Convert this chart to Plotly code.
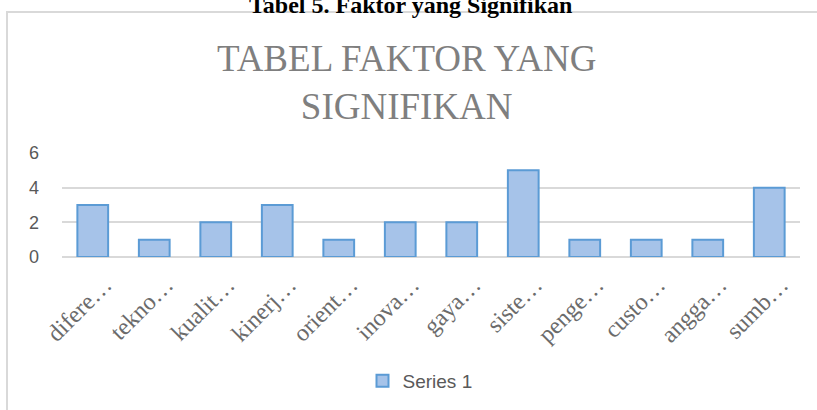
import plotly.graph_objects as go

categories = ["difere…", "tekno…", "kualit…", "kinerj…", "orient…", "inova…",
              "gaya…", "siste…", "penge…", "custo…", "angga…", "sumb…"]
values = [3, 1, 2, 3, 1, 2, 2, 5, 1, 1, 1, 4]
series_name = "Series 1"
y_ticks = [0, 2, 4, 6]
chart_title = "TABEL FAKTOR YANG<br>SIGNIFIKAN"
doc_caption = "<b>Tabel 5. Faktor yang Signifikan</b>"

WIDTH, HEIGHT = 817, 410
L, R, T, B = 62, 800, 153, 257
PW, PH = R - L, B - T


def px(x):
    return (x - L) / PW


def py(y):
    return (B - y) / PH


fig = go.Figure()
fig.add_trace(go.Bar(
    x=categories, y=values, name=series_name,
    marker=dict(color="#a6c3e9", line=dict(color="#5b9bd5", width=2)),
    width=0.5,
))

fig.update_layout(
    width=WIDTH, height=HEIGHT,
    margin=dict(l=L, r=WIDTH - R, t=T, b=HEIGHT - B, autoexpand=False),
    paper_bgcolor="white", plot_bgcolor="white",
    showlegend=True,
    legend=dict(orientation="h", x=px(420), y=py(381), xanchor="center", yanchor="middle",
                font=dict(family="Liberation Sans", size=19, color="#595959"),
                itemwidth=30, bgcolor="rgba(0,0,0,0)"),
    bargap=0.5,
    xaxis=dict(type="category", tickangle=-45, showgrid=False, showline=False, ticks="",
               ticklabelshift=12, ticklabelstandoff=8,
               tickfont=dict(family="Liberation Serif", size=24, color="#6b6b6b")),
    yaxis=dict(range=[0, 6], tickvals=y_ticks, showgrid=True, gridcolor="#d9d9d9", gridwidth=1.5,
               zeroline=True, zerolinecolor="#d9d9d9", zerolinewidth=1.5, ticks="",
               ticklabelstandoff=22,
               tickfont=dict(family="Liberation Sans", size=18, color="#595959")),
    shapes=[dict(type="rect", xref="paper", yref="paper",
                 x0=px(7), x1=px(830), y0=py(12), y1=py(430),
                 line=dict(color="#d9d9d9", width=2), fillcolor="rgba(0,0,0,0)", layer="below")],
    annotations=[
        dict(text=chart_title, xref="paper", yref="paper", x=px(406), y=py(82),
             xanchor="center", yanchor="middle", showarrow=False,
             font=dict(family="Liberation Serif", size=37, color="#7f7f7f")),
        dict(text=doc_caption, xref="paper", yref="paper", x=px(410), y=py(5),
             xanchor="center", yanchor="middle", showarrow=False,
             font=dict(family="Liberation Serif", size=24, color="#000000")),
    ],
)

fig.write_html("out.html", config={"displayModeBar": False},
               post_script="document.body.style.margin='0';document.body.style.overflow='hidden';")
